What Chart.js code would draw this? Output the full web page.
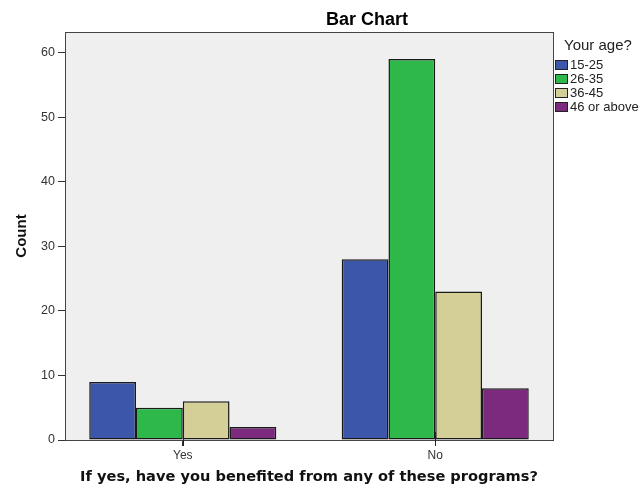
<!DOCTYPE html>
<html>
<head>
<meta charset="utf-8">
<script src="https://cdn.jsdelivr.net/npm/chart.js@4"></script>
<style>
  html, body { margin: 0; padding: 0; background: #fff; }
  #wrap { width: 639px; height: 487px; }
</style>
</head>
<body>
<div id="wrap"><canvas id="chart" width="639" height="487"></canvas></div>
<script>
// --- DATA ---
const categories = ['Yes', 'No'];
const ageGroups = ['15-25', '26-35', '36-45', '46 or above'];
const age15to25 = [9, 28];
const age26to35 = [5, 59];
const age36to45 = [6, 23];
const age46plus = [2, 8];
const yTicks = [0, 10, 20, 30, 40, 50, 60];

const seriesValues = [age15to25, age26to35, age36to45, age46plus];
const colors = ['#3c56a9', '#2eb84a', '#d4ce97', '#7b2a7e'];

const ctx = document.getElementById('chart').getContext('2d');

// gray plot background + frame, x tick marks, title and legend block
const spssFrame = {
    id: 'spssFrame',
    beforeDatasetsDraw(chart) {
        const a = chart.chartArea;
        const c = chart.ctx;
        c.save();
        c.fillStyle = '#efefef';
        c.fillRect(a.left, a.top, a.right - a.left, a.bottom - a.top);
        c.restore();
    },
    afterDraw(chart) {
        const a = chart.chartArea;
        const c = chart.ctx;
        c.save();
        c.strokeStyle = '#444';
        c.lineWidth = 1;
        c.strokeRect(Math.round(a.left) + 0.5, Math.round(a.top) + 0.5,
            Math.round(a.right - a.left), Math.round(a.bottom - a.top));

        // category tick marks
        const xs = chart.scales.x;
        c.strokeStyle = '#222';
        categories.forEach((cat, i) => {
            const px = Math.round(xs.getPixelForValue(i)) + 0.5;
            c.beginPath();
            c.moveTo(px, a.bottom - 8);
            c.lineTo(px, a.bottom + 6);
            c.stroke();
        });

        // title
        c.fillStyle = '#000';
        c.font = 'bold 18px "Liberation Sans", Arial, sans-serif';
        c.textAlign = 'center';
        c.textBaseline = 'middle';
        c.fillText('Bar Chart', 367, 20);

        // legend
        c.textAlign = 'left';
        c.fillStyle = '#222';
        c.font = '15px "Liberation Sans", Arial, sans-serif';
        c.fillText('Your age?', 564, 46);
        c.font = '13px "Liberation Sans", Arial, sans-serif';
        chart.data.datasets.forEach((ds, i) => {
            const cy = 65 + i * 14;
            c.fillStyle = ds.backgroundColor;
            c.fillRect(555, cy - 5, 13, 10);
            c.strokeStyle = '#222';
            c.strokeRect(555.5, cy - 4.5, 12, 9);
            c.fillStyle = '#222';
            c.fillText(ds.label, 570, cy + 0.5);
        });
        c.restore();
    }
};

const chart = new Chart(ctx, {
    type: 'bar',
    data: {
        datasets: ageGroups.map((label, i) => ({
            label: label,
            data: seriesValues[i].map((v, j) => ({ x: j, y: v })),
            backgroundColor: colors[i],
            borderColor: '#1a1a1a',
            borderWidth: 1.5,
            borderSkipped: false
        }))
    },
    options: {
        responsive: false,
        animation: false,
        layout: { padding: { top: 32, right: 86, left: 0, bottom: 0 } },
        datasets: { bar: { categoryPercentage: 0.741, barPercentage: 1 } },
        plugins: {
            legend: { display: false },
            title: { display: false },
            tooltip: { enabled: false }
        },
        scales: {
            x: {
                type: 'linear',
                offset: false,
                min: -0.4665,
                max: 1.4665,
                afterBuildTicks: (scale) => {
                    scale.ticks = categories.map((c, i) => ({ value: i }));
                },
                afterFit: (scale) => { scale.height = 47; },
                grid: { offset: false, drawOnChartArea: false, drawTicks: true, tickLength: 6, color: '#333' },
                border: { display: true, color: '#444' },
                ticks: {
                    padding: 2,
                    color: '#333',
                    font: { family: '"Liberation Sans", Arial, sans-serif', size: 12 },
                    callback: (v) => categories[v]
                },
                title: {
                    display: true,
                    text: 'If yes, have you benefited from any of these programs?',
                    color: '#111',
                    font: { family: '"DejaVu Sans", Verdana, sans-serif', size: 14.6, weight: 'bold', lineHeight: 1.2 },
                    padding: { top: 0, bottom: 1 }
                }
            },
            y: {
                min: 0,
                max: 63.2,
                afterBuildTicks: (scale) => {
                    scale.ticks = yTicks.map(v => ({ value: v }));
                },
                afterFit: (scale) => { scale.width = 65; },
                grid: { drawOnChartArea: false, drawTicks: true, tickLength: 7, color: '#333' },
                border: { display: true, color: '#444' },
                ticks: {
                    padding: 3,
                    color: '#333',
                    font: { family: '"Liberation Sans", Arial, sans-serif', size: 12.5 }
                },
                title: {
                    display: true,
                    text: 'Count',
                    color: '#111',
                    font: { family: '"Liberation Sans", Arial, sans-serif', size: 15, weight: 'bold', lineHeight: 1.2 },
                    padding: { top: 13, bottom: 0 }
                }
            }
        }
    },
    plugins: [spssFrame]
});
</script>
</body>
</html>
